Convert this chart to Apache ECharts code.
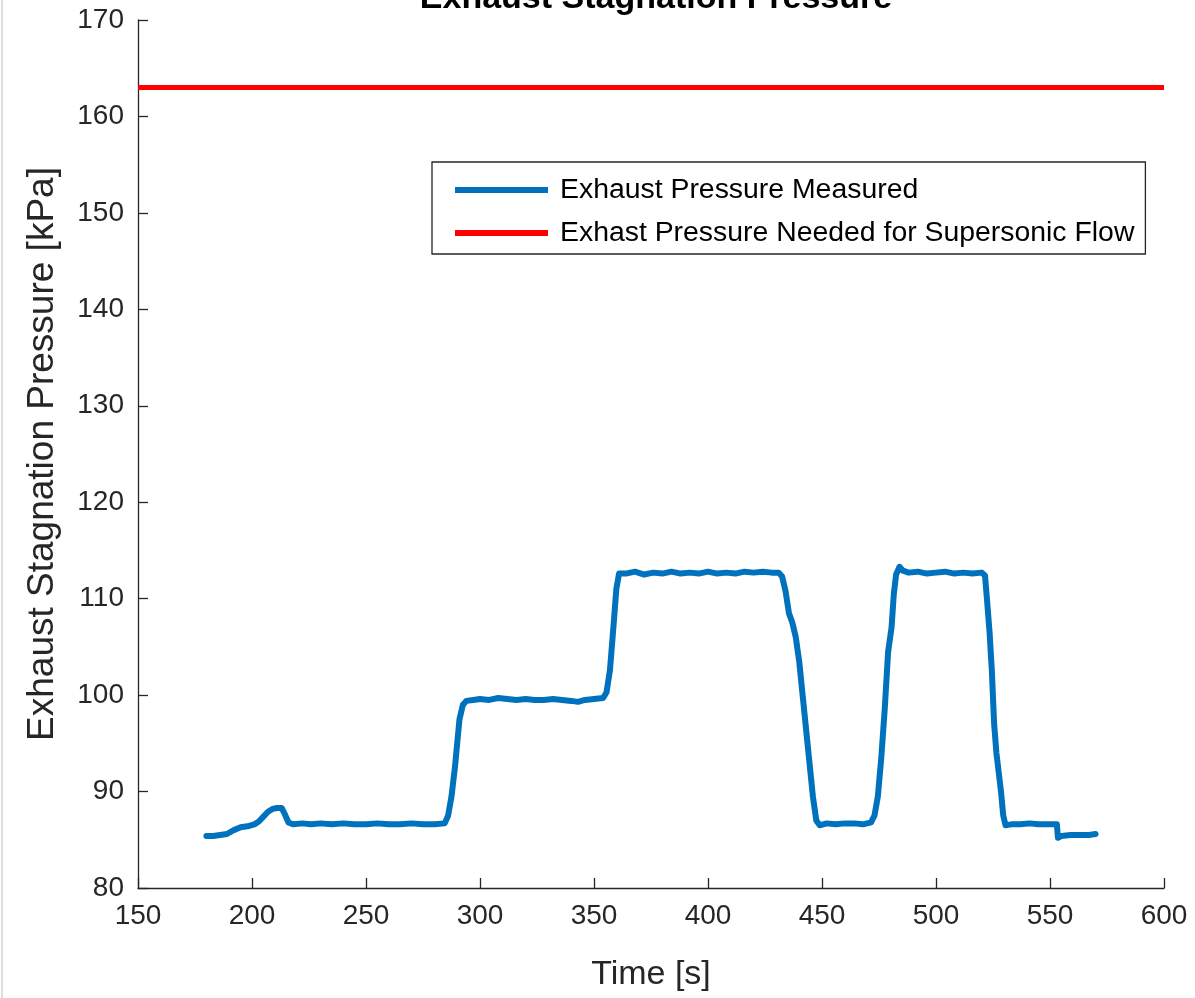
<!DOCTYPE html>
<html>
<head>
<meta charset="utf-8">
<title>Exhaust Stagnation Pressure</title>
<script src="https://cdn.jsdelivr.net/npm/echarts@6/dist/echarts.min.js"></script>
<style>
  html, body { margin: 0; padding: 0; background: #ffffff; }
  #chart { width: 1195px; height: 998px; }
</style>
</head>
<body>
<div id="chart"></div>
<script>
// Measured exhaust stagnation pressure over the run
const timeSec = [
  180, 183, 186, 189, 192, 195, 198, 201, 203, 205, 207, 209, 211, 213, 214.5, 216, 218,
  222, 226, 230, 235, 240, 245, 250, 255, 260, 265, 270, 275, 280, 284.5,
  286, 287.5, 289, 290, 291, 292.5, 294,
  297, 300, 304, 308, 312, 316, 320, 324, 328, 332, 336, 340, 343, 346, 350, 354,
  355.5, 357, 358.5, 359.8, 361,
  364, 368, 372, 376, 380, 384, 388, 392, 396, 400, 404, 408, 412, 416, 420, 424, 428, 431,
  432.5, 434, 435.5, 437, 438.5, 440, 441.5, 443, 444.5, 446, 447.5, 449,
  452, 456, 460, 464, 468, 471.5,
  473, 474.5, 476, 477.5, 479, 480.5, 481.5, 482.5, 484, 485.5,
  488, 492, 496, 500, 504, 508, 512, 516, 520,
  521.5, 522.5, 523.5, 524.5, 525.5, 526.5, 527.5, 528.5, 529.5, 530.5,
  533, 537, 541, 545, 549, 553, 553.5, 555, 559, 563, 567, 570
];
const pressureKPa = [
  85.4, 85.4, 85.5, 85.6, 86.0, 86.3, 86.4, 86.6, 86.9, 87.4, 87.9, 88.2, 88.3, 88.3, 87.6, 86.8, 86.6,
  86.7, 86.6, 86.7, 86.6, 86.7, 86.6, 86.6, 86.7, 86.6, 86.6, 86.7, 86.6, 86.6, 86.7,
  87.5, 89.5, 92.5, 95.0, 97.5, 99.0, 99.4,
  99.5, 99.6, 99.5, 99.7, 99.6, 99.5, 99.6, 99.5, 99.5, 99.6, 99.5, 99.4, 99.3, 99.5, 99.6, 99.7,
  100.3, 102.6, 107.0, 111.0, 112.6,
  112.6, 112.8, 112.5, 112.7, 112.6, 112.8, 112.6, 112.7, 112.6, 112.8, 112.6, 112.7, 112.6, 112.8, 112.7, 112.8, 112.7, 112.7,
  112.3, 110.8, 108.5, 107.5, 106.0, 103.5, 100.0, 96.5, 93.0, 89.5, 87.0, 86.5,
  86.7, 86.6, 86.7, 86.7, 86.6, 86.8,
  87.5, 89.5, 93.5, 98.5, 104.5, 107.0, 110.5, 112.5, 113.3, 112.9,
  112.7, 112.8, 112.6, 112.7, 112.8, 112.6, 112.7, 112.6, 112.7,
  112.4, 109.5, 106.5, 102.5, 97.0, 94.0, 92.0, 90.0, 87.5, 86.5,
  86.6, 86.6, 86.7, 86.6, 86.6, 86.6, 85.2, 85.4, 85.5, 85.5, 85.5, 85.6
];

// Required pressure for supersonic exhaust flow (constant)
const requiredTime = [150, 600];
const requiredPressure = [163, 163];

// Axis ranges and ticks
const xTicks = [150, 200, 250, 300, 350, 400, 450, 500, 550, 600];
const yTicks = [80, 90, 100, 110, 120, 130, 140, 150, 160, 170];

const seriesNames = [
  'Exhaust Pressure Measured',
  'Exhast Pressure Needed for Supersonic Flow'
];

const FONT = '"Liberation Sans", Arial, Helvetica, sans-serif';
const INK = '#262626';

const measured = timeSec.map((t, i) => [t, pressureKPa[i]]);
const required = requiredTime.map((t, i) => [t, requiredPressure[i]]);

const chart = echarts.init(document.getElementById('chart'), null, { renderer: 'canvas' });

chart.setOption({
  backgroundColor: '#ffffff',
  animation: false,
  title: {
    text: 'Exhaust Stagnation Pressure',
    left: 651,
    textAlign: 'center',
    top: -23,
    textStyle: { fontFamily: FONT, fontSize: 34, fontWeight: 'bold', color: '#000000' }
  },
  grid: { left: 138, right: 31, top: 20, bottom: 110, containLabel: false },
  legend: {
    orient: 'vertical',
    left: 432,
    top: 162,
    padding: [14, 11, 7, 23],
    itemGap: 15,
    itemWidth: 93,
    itemHeight: 6,
    icon: 'rect',
    borderColor: INK,
    borderWidth: 1.3,
    backgroundColor: '#ffffff',
    data: seriesNames,
    textStyle: { fontFamily: FONT, fontSize: 28.4, color: '#000000', padding: [0, 0, 0, 7] }
  },
  xAxis: {
    type: 'value',
    min: xTicks[0],
    max: xTicks[xTicks.length - 1],
    interval: xTicks[1] - xTicks[0],
    name: 'Time [s]',
    nameLocation: 'middle',
    nameGap: 70,
    nameTextStyle: { fontFamily: FONT, fontSize: 34, color: INK },
    axisLine: { show: true, onZero: false, lineStyle: { color: INK, width: 1.3 } },
    axisTick: { show: true, inside: true, length: 10, lineStyle: { color: INK, width: 1.3 } },
    axisLabel: { fontFamily: FONT, fontSize: 28, color: INK, margin: 14 },
    splitLine: { show: false }
  },
  yAxis: {
    type: 'value',
    min: yTicks[0],
    max: yTicks[yTicks.length - 1],
    interval: yTicks[1] - yTicks[0],
    name: 'Exhaust Stagnation Pressure [kPa]',
    nameLocation: 'middle',
    nameGap: 77,
    nameTextStyle: { fontFamily: FONT, fontSize: 37, color: INK },
    axisLine: { show: true, onZero: false, lineStyle: { color: INK, width: 1.3 } },
    axisTick: { show: true, inside: true, length: 10, lineStyle: { color: INK, width: 1.3 } },
    axisLabel: { fontFamily: FONT, fontSize: 28, color: INK, margin: 14 },
    splitLine: { show: false }
  },
  series: [
    {
      name: seriesNames[0],
      type: 'line',
      data: measured,
      showSymbol: false,
      symbol: 'none',
      smooth: false,
      lineStyle: { color: '#0072BD', width: 6, join: 'round', cap: 'round' },
      itemStyle: { color: '#0072BD' },
      z: 3
    },
    {
      name: seriesNames[1],
      type: 'line',
      data: required,
      showSymbol: false,
      symbol: 'none',
      lineStyle: { color: '#FF0000', width: 5 },
      itemStyle: { color: '#FF0000' },
      z: 2
    }
  ],
  graphic: [
    {
      type: 'line',
      shape: { x1: 2, y1: 0, x2: 2, y2: 998 },
      style: { stroke: '#d4d4d4', lineWidth: 1.5 },
      silent: true
    }
  ]
});
</script>
</body>
</html>
